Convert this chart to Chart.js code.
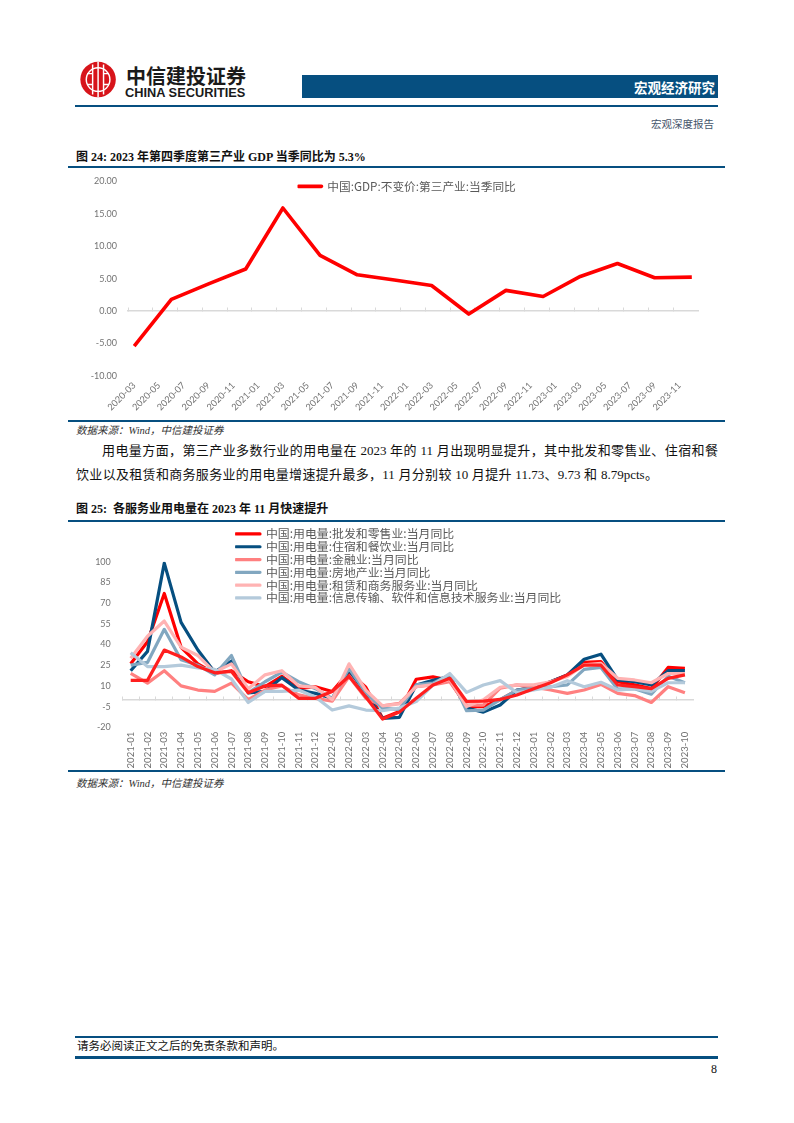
<!DOCTYPE html>
<html lang="zh">
<head>
<meta charset="utf-8">
<title>宏观深度报告</title>
<script src="https://cdn.jsdelivr.net/npm/chart.js@4"></script>
<style>
  html, body { margin: 0; padding: 0; background: #fff; }
  body { position: relative; width: 794px; height: 1123px; overflow: hidden;
         font-family: "Liberation Serif", "Noto Sans CJK SC", serif; color: #111; }
  .abs { position: absolute; white-space: nowrap; line-height: 1; }
  .rule { position: absolute; background: #064f80; }
  .fig-title { left: 76px; font-size: 12px; font-weight: bold; }
  .source { left: 76px; font-size: 10.5px; font-style: italic; color: #333; }
  .para { left: 76px; width: 642px; font-size: 13px; white-space: normal; text-align: justify; text-align-last: justify; }
  canvas { position: absolute; display: block; }
</style>
</head>
<body>

<!-- 页眉 -->
<svg class="abs" style="left:79px;top:60px" width="40" height="40" viewBox="0 0 44 44">
  <circle cx="21" cy="21.5" r="19.5" fill="#d7141a"/>
  <circle cx="21" cy="21.5" r="13" fill="none" stroke="#fff" stroke-width="1.6"/>
  <path d="M15 5v33M21 2v39M27 5v33M9 15h6M27 15h6M9 27h6M27 27h6" stroke="#fff" stroke-width="1.6" fill="none"/>
</svg>
<div class="abs" style="left:126px;top:66px;font:bold 20px/1 'Noto Sans CJK SC';color:#1a1a1a">中信建投证券</div>
<div class="abs" style="left:125px;top:87px;font:bold 12.8px/1 'Liberation Sans';color:#1a1a1a">CHINA SECURITIES</div>
<div class="rule" style="left:302px;top:75px;width:416px;height:23px"></div>
<div class="abs" style="right:79px;top:81px;font:bold 13.5px/1 'Noto Sans CJK SC';color:#fff">宏观经济研究</div>
<div class="rule" style="left:75px;top:105px;width:643px;height:2px"></div>
<div class="abs" style="right:80px;top:119px;font:10.5px/1 'Noto Sans CJK SC';color:#44546a">宏观深度报告</div>

<!-- 图 24 -->
<div class="abs fig-title" style="top:151px">图 24: 2023 年第四季度第三产业 GDP 当季同比为 5.3%</div>
<div class="rule" style="left:68px;top:166px;width:657px;height:2px"></div>
<canvas id="gdp-chart" width="644" height="255" style="left:76px;top:165px"></canvas>
<div class="rule" style="left:68px;top:420px;width:657px;height:2px"></div>
<div class="abs source" style="top:426px">数据来源：Wind，中信建投证券</div>

<div class="abs para" style="top:444px;text-indent:26px">用电量方面，第三产业多数行业的用电量在 2023 年的 11 月出现明显提升，其中批发和零售业、住宿和餐</div>
<div class="abs para" style="top:468px;width:582px">饮业以及租赁和商务服务业的用电量增速提升最多，11 月分别较 10 月提升 11.73、9.73 和 8.79pcts。</div>

<!-- 图 25 -->
<div class="abs fig-title" style="top:503px">图 25:&nbsp; 各服务业用电量在 2023 年 11 月快速提升</div>
<div class="rule" style="left:68px;top:520px;width:657px;height:2px"></div>
<canvas id="power-chart" width="644" height="248" style="left:76px;top:522px"></canvas>
<div class="rule" style="left:68px;top:770px;width:657px;height:2px"></div>
<div class="abs source" style="top:779px">数据来源：Wind，中信建投证券</div>

<!-- 页脚 -->
<div class="rule" style="left:75px;top:1036px;width:643px;height:2px"></div>
<div class="abs" style="left:77px;top:1041px;font-size:11.5px">请务必阅读正文之后的免责条款和声明。</div>
<div class="rule" style="left:75px;top:1056px;width:643px;height:3px"></div>
<div class="abs" style="right:77px;top:1063px;font-size:12px">8</div>

<script>
/* 图 24 数据: 按月排列的横轴, 只有季末有值 */
const gdpMonths = [
  "2020-03","2020-04","2020-05","2020-06","2020-07","2020-08","2020-09","2020-10","2020-11","2020-12",
  "2021-01","2021-02","2021-03","2021-04","2021-05","2021-06","2021-07","2021-08","2021-09","2021-10","2021-11","2021-12",
  "2022-01","2022-02","2022-03","2022-04","2022-05","2022-06","2022-07","2022-08","2022-09","2022-10","2022-11","2022-12",
  "2023-01","2023-02","2023-03","2023-04","2023-05","2023-06","2023-07","2023-08","2023-09","2023-10","2023-11","2023-12"
];
const gdpValues = [
  -5.4,null,null,1.8,null,null,4.2,null,null,6.5,
  null,null,15.9,null,null,8.6,null,null,5.6,null,null,4.8,
  null,null,3.95,null,null,-0.45,null,null,3.2,null,null,2.25,
  null,null,5.35,null,null,7.35,null,null,5.15,null,null,5.25
];
const gdpLabel = "中国:GDP:不变价:第三产业:当季同比";

/* 图 25 数据 */
const powerMonths = [
  "2021-01","2021-02","2021-03","2021-04","2021-05","2021-06","2021-07","2021-08","2021-09","2021-10","2021-11","2021-12",
  "2022-01","2022-02","2022-03","2022-04","2022-05","2022-06","2022-07","2022-08","2022-09","2022-10","2022-11","2022-12",
  "2023-01","2023-02","2023-03","2023-04","2023-05","2023-06","2023-07","2023-08","2023-09","2023-10"
];
const wholesale = [26,42,77,38,26,19,21,13,9.5,17,8,9.4,6,20,9,-13.5,-8.6,14.8,16.5,14,-5,-5,0,6.8,9,13,18,27,27.6,13,10.7,8,23.4,22.7];
const lodging   = [21,35,99,56,36,20,28,5,6,16,7,4.6,1,21.5,4.6,-13.5,-12.8,10.7,14,16.8,-6,-9,-3.8,7,9,13,18,29.3,33,14.3,13,10.7,21,21];
const finance   = [19,12,21,10,7,6,12,0,7,10,3.5,1,-1,16.8,1,-4.5,-2.6,9.4,10.7,13,-4,-4,8.3,10.7,9,7,4.6,7,11.1,4.6,3,-2,9.4,5];
const realty    = [25,27,51,29,25,18,32,5,13,20,13,8,1,22.7,5,-6.3,-7,10.7,12,18,-8,-7.5,0,7,8,9.4,10.7,22,23.4,7.6,8,4,17,12.3];
const leasing   = [30,46,57,38,32,20,26,8,18,21,10,8.9,0,26,7,-4.5,-3,9.4,11,14.8,-5,0,9,10.7,10.7,13,16.8,25.2,26.3,15.5,14.3,12.3,19,19];
const infotech  = [34,24,24,25,23,22,15,-2,6,6,7,2,-7.5,-4.5,-7.5,-8,-6,-1.3,10.7,19,5.3,10.7,13.8,5,7,9,13.8,9.4,12.6,7,8,6,12.3,12.3];
const tertiary  = [14,14,36,31,24,19.5,20.5,5,10,10.5,1,1,6,17,2,-14,-9,1,10.7,15.5,-1.3,-1,0.2,3.4,8,12.3,18,25,25,10.7,9.4,8,15.5,18];

const powerLabels = [
  "中国:用电量:批发和零售业:当月同比",
  "中国:用电量:住宿和餐饮业:当月同比",
  "中国:用电量:金融业:当月同比",
  "中国:用电量:房地产业:当月同比",
  "中国:用电量:租赁和商务服务业:当月同比",
  "中国:用电量:信息传输、软件和信息技术服务业:当月同比",
  "" // 图例里没有这条线
];
const powerSeries = [wholesale, lodging, finance, realty, leasing, infotech, tertiary];
const powerColors = ["#ff0000", "#064f80", "#ff8080", "#82a7c0", "#ffb3b3", "#b4cadb", "#ff1f1f"];

const labelFamily = "Lato, 'Noto Sans', sans-serif";
const tickGray = "#737373";
const lineGray = "#d9d9d9";

// 把图例放到指定位置 (图例压在绘图区上面)
const placeLegend = {
  id: "placeLegend",
  afterLayout(chart, args, opts) {
    chart.legend.left = opts.x;
    chart.legend.top = opts.y;
  }
};

// 0 轴: 只画轴线和朝上的刻度, 文字在底部的 x 轴
function zeroAxis(tickEvery) {
  return {
    type: "category",
    position: { y: 0 },
    offset: true,
    border: { color: lineGray, width: 1.5 },
    ticks: { display: false, autoSkip: false },
    grid: {
      offset: true,
      drawOnChartArea: false,
      tickLength: -4,
      tickWidth: 1,
      tickColor: ctx => (ctx.index % tickEvery === 0 ? lineGray : "rgba(0,0,0,0)")
    }
  };
}

new Chart(document.getElementById("gdp-chart"), {
  type: "line",
  plugins: [placeLegend],
  data: {
    labels: gdpMonths,
    datasets: [{
      label: gdpLabel,
      data: gdpValues,
      borderColor: "#ff0000",
      backgroundColor: "#ff0000",
      borderWidth: 3.6,
      borderJoinStyle: "round",
      pointRadius: 0,
      spanGaps: true,
      tension: 0
    }]
  },
  options: {
    responsive: false,
    animation: false,
    layout: { padding: { top: 5, right: 22, left: 0, bottom: 0 } },
    scales: {
      x: {
        offset: true,
        border: { display: false },
        grid: { display: false, drawTicks: false },
        afterFit: s => { s.height = 44; },
        ticks: {
          autoSkip: false, maxRotation: 45, minRotation: 45, padding: 4,
          font: { family: labelFamily, size: 9.2 }, color: tickGray,
          callback(v, i) { return i % 2 === 0 ? this.getLabelForValue(v) : ""; }
        }
      },
      x2: zeroAxis(2),
      y: {
        min: -10, max: 20,
        border: { display: false },
        grid: { display: false, drawTicks: false },
        afterFit: s => { s.width = 52; },
        ticks: {
          stepSize: 5, padding: 11, font: { family: labelFamily, size: 9 }, color: tickGray,
          callback: v => v.toFixed(2)
        }
      }
    },
    plugins: {
      tooltip: { enabled: false },
      placeLegend: { x: 222.5 - 1, y: 14.5 },
      legend: {
        position: "chartArea",
        align: "start",
        labels: {
          boxWidth: 23, boxHeight: 0, padding: 1,
          color: "#595959",
          font: { family: "'Noto Sans CJK SC', sans-serif", size: 11.7 }
        }
      }
    }
  }
});

new Chart(document.getElementById("power-chart"), {
  type: "line",
  plugins: [placeLegend],
  data: {
    labels: powerMonths,
    datasets: powerSeries.map((values, i) => ({
      label: powerLabels[i],
      data: values,
      borderColor: powerColors[i],
      backgroundColor: powerColors[i],
      borderWidth: 3.2,
      borderJoinStyle: "round",
      pointRadius: 0,
      tension: 0,
      order: powerSeries.length - i // 后面的序列盖在上面
    }))
  },
  options: {
    responsive: false,
    animation: false,
    layout: { padding: { top: 39.7, right: 26.7, left: 0, bottom: 0 } },
    scales: {
      x: {
        offset: true,
        border: { display: false },
        grid: { display: false, drawTicks: false },
        afterFit: s => { s.height = 42.7; },
        ticks: {
          autoSkip: false, maxRotation: 90, minRotation: 90, padding: 4.5,
          font: { family: labelFamily, size: 9.5 }, color: tickGray
        }
      },
      x2: zeroAxis(1),
      y: {
        min: -20, max: 100,
        border: { display: false },
        grid: { display: false, drawTicks: false },
        afterFit: s => { s.width = 46.3; },
        ticks: { stepSize: 15, padding: 11.5, font: { family: labelFamily, size: 9 }, color: tickGray }
      }
    },
    plugins: {
      tooltip: { enabled: false },
      placeLegend: { x: 160 - 0.9, y: 5.1 },
      legend: {
        position: "chartArea",
        align: "start",
        labels: {
          boxWidth: 24, boxHeight: 0, padding: 0.9,
          color: "#595959",
          font: { family: "'Noto Sans CJK SC', sans-serif", size: 11.9 },
          filter: item => item.text !== "",
          sort: (a, b) => a.datasetIndex - b.datasetIndex
        }
      }
    }
  }
});
</script>
</body>
</html>
